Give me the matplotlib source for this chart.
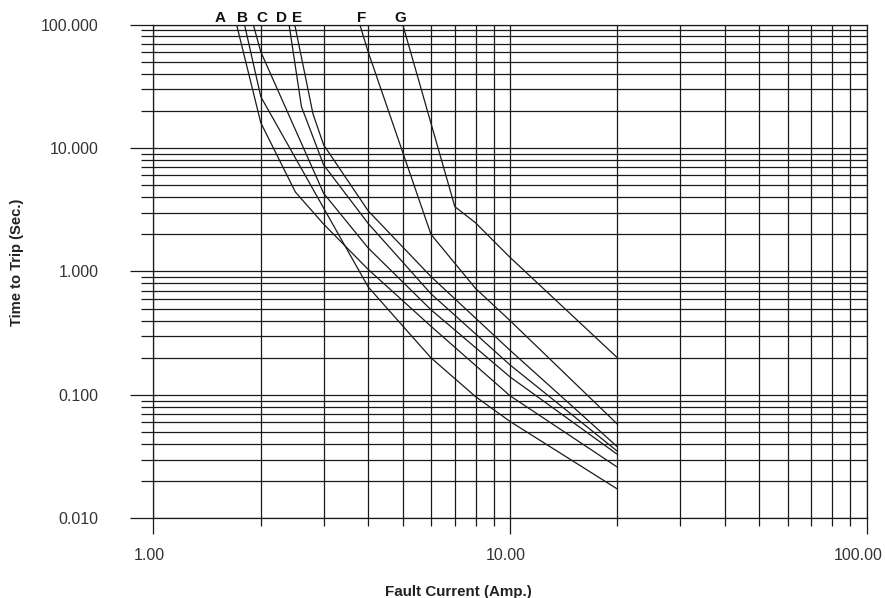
import matplotlib.pyplot as plt
from matplotlib.ticker import FixedLocator, NullFormatter
from matplotlib.transforms import offset_copy

plt.rcParams['font.family'] = ['Liberation Sans', 'DejaVu Sans']

# trip curves (current in A, time in s)
a_x = [1.71, 2.0, 2.5, 3.0, 4.0, 6.0, 10.0, 20.0]
a_y = [100.0, 16.0, 4.4, 2.42, 1.04, 0.36, 0.0985, 0.026]
b_x = [1.80, 2.0, 4.0, 6.0, 8.0, 10.0, 20.0]
b_y = [100.0, 26.0, 0.75, 0.20, 0.097, 0.061, 0.0173]
c_x = [1.905, 2.0, 3.0, 4.0, 6.0, 10.0, 20.0]
c_y = [100.0, 60.0, 4.3, 1.55, 0.49, 0.14, 0.033]
d_x = [2.40, 2.6, 3.0, 4.0, 6.0, 10.0, 20.0]
d_y = [100.0, 21.6, 7.3, 2.45, 0.66, 0.175, 0.035]
e_x = [2.49, 2.8, 3.0, 4.0, 6.0, 10.0, 20.0]
e_y = [100.0, 19.0, 10.6, 3.1, 0.91, 0.23, 0.038]
f_x = [3.79, 4.0, 6.0, 8.0, 10.0, 20.0]
f_y = [100.0, 60.0, 2.0, 0.73, 0.40, 0.058]
g_x = [5.0, 7.0, 8.0, 10.0, 20.0]
g_y = [100.0, 3.35, 2.48, 1.3, 0.2]

curve_names = ['A', 'B', 'C', 'D', 'E', 'F', 'G']
label_x = [1.535, 1.78, 2.01, 2.29, 2.52, 3.84, 4.93]

x_ticks = [1, 10, 100]
x_tick_labels = ['1.00', '10.00', '100.00']
y_ticks = [0.01, 0.1, 1, 10, 100]
y_tick_labels = ['0.010', '0.100', '1.000', '10.000', '100.000']

fig = plt.figure(figsize=(8.85, 5.98), dpi=100)
ax = fig.add_axes([0.1734, 0.133, 0.8059, 0.826])
ax.set_xscale('log')
ax.set_yscale('log')
ax.set_xlim(1, 100)
ax.set_ylim(0.01, 100)

line_col = '#1a1a1a'
curves = [(a_x, a_y), (b_x, b_y), (c_x, c_y), (d_x, d_y),
          (e_x, e_y), (f_x, f_y), (g_x, g_y)]
for xs, ys in curves:
    ax.plot(xs, ys, color=line_col, lw=0.9, zorder=3)

for name, lx in zip(curve_names, label_x):
    ax.text(lx, 100, name, ha='center', va='bottom', fontsize=11,
            fontweight='bold', color='#111111', clip_on=False)

ax.xaxis.set_major_locator(FixedLocator(x_ticks))
ax.xaxis.set_minor_locator(FixedLocator([2, 3, 4, 5, 6, 7, 8, 9,
                                         20, 30, 40, 50, 60, 70, 80, 90]))
ax.set_xticklabels(x_tick_labels)
ax.xaxis.set_minor_formatter(NullFormatter())
minor_y = [m * 10.0 ** e for e in range(-2, 2) for m in range(2, 10)]
ax.yaxis.set_major_locator(FixedLocator(y_ticks))
ax.yaxis.set_minor_locator(FixedLocator(minor_y))
ax.set_yticklabels(y_tick_labels)
ax.yaxis.set_minor_formatter(NullFormatter())

ax.grid(True, which='both', color=line_col, lw=0.9)
for s in ax.spines.values():
    s.set_color(line_col)
    s.set_linewidth(0.9)

ax.tick_params(axis='x', which='major', direction='out', length=11.5,
               width=0.9, color=line_col, pad=9.5, labelsize=11.5,
               labelcolor='#333333')
ax.tick_params(axis='x', which='minor', direction='out', length=5.8,
               width=0.9, color=line_col)
ax.tick_params(axis='y', which='major', direction='out', length=16.5,
               width=0.9, color=line_col, pad=23, labelsize=11.5,
               labelcolor='#333333')
ax.tick_params(axis='y', which='minor', direction='out', length=8.6,
               width=0.9, color=line_col)

# x labels sit a little left of their ticks, the last one more so
for lbl, shift in zip(ax.get_xticklabels(), [-4, -4, -8]):
    lbl.set_transform(offset_copy(lbl.get_transform(), fig=fig,
                                  x=shift, y=0, units='dots'))

ax.set_xlabel('Fault Current (Amp.)', fontsize=10.9, fontweight='bold',
              color='#222222')
ax.xaxis.set_label_coords(0.428, -0.149)
ax.xaxis.label.set_va('center')
ax.set_ylabel('Time to Trip (Sec.)', fontsize=10.6, fontweight='bold',
              color='#222222')
ax.yaxis.set_label_coords(-0.191, 0.519)
ax.yaxis.label.set_va('center')

fig.savefig('out.png', dpi=100)
